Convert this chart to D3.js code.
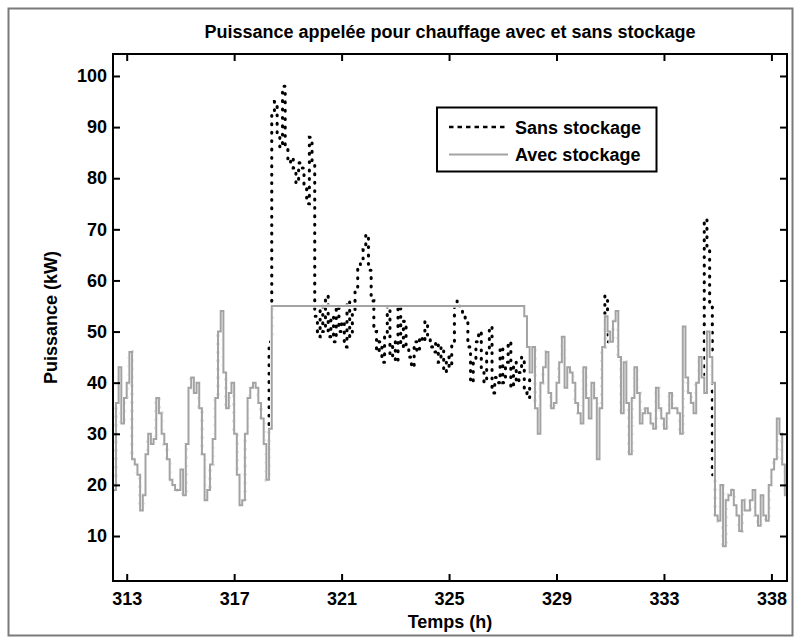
<!DOCTYPE html>
<html><head><meta charset="utf-8">
<script src="https://cdn.jsdelivr.net/npm/d3@7"></script>
<style>
body{margin:0;background:#fff}
text{font-family:"Liberation Sans",Arial,Helvetica,sans-serif;font-weight:bold;fill:#000}
</style>
</head><body>
<svg id="chart" width="801" height="643"></svg>
<script>
// ---- data ----
const titleText = "Puissance appelée pour chauffage avec et sans stockage";
const xLabel = "Temps (h)";
const yLabel = "Puissance (kW)";
const startHour = 312.5;   // first sample (h)
const stepHour = 0.1;      // sampling step (h)

const avec = [
 19,36,43,32,37,40,46,25,24,22,
 15,18,26,30,28,29,37,34,30,28,
 25,21,20,19,19,23,18,28,39,41,
 38,40,35,26,17,19,24,29,37,50,
 54,42,35,38,40,30,22,16,17,30,
 37,39,40,39,36,33,28,21,31,55,
 55,55,55,55,55,55,55,55,55,55,
 55,55,55,55,55,55,55,55,55,55,
 55,55,55,55,55,55,55,55,55,55,
 55,55,55,55,55,55,55,55,55,55,
 55,55,55,55,55,55,55,55,55,55,
 55,55,55,55,55,55,55,55,55,55,
 55,55,55,55,55,55,55,55,55,55,
 55,55,55,55,55,55,55,55,55,55,
 55,55,55,55,55,55,55,55,55,55,
 55,55,55,53,47,42,47,35,30,40,
 43,46,38,35,36,40,44,49,39,43,
 42,40,36,34,32,43,37,33,40,37,
 25,35,47,53,50,48,52,54,45,34,
 44,36,26,37,43,38,32,34,35,34,
 32,31,39,35,33,31,34,38,35,35,
 34,30,51,41,38,36,34,40,45,41,
 38,50,45,40,14,13,20,8,17,18,
 19,16,14,11,17,15,15,17,19,14,
 12,18,14,13,20,23,25,33,30,24,
 18,17
];

const sans = [
 19,36,43,32,37,40,46,25,24,22,
 15,18,26,30,28,29,37,34,30,28,
 25,21,20,19,19,23,18,28,39,41,
 38,40,35,26,17,19,24,29,37,50,
 54,42,35,38,40,30,22,16,17,30,
 37,39,40,39,36,33,28,21,48,93,
 95,88,86,98,86,83,84,82,79,83,
 82,78,75,88,83,53,49,55,50,57,
 49,53,48,55,50,52,47,56,49,54,
 58,63,64,66,69,62,56,50,46,48,
 44,49,55,45,48,44,55,47,52,47,
 45,43,48,46,49,48,52,49,47,46,
 48,44,47,42,45,43,48,55,56,54,
 53,52,47,40,44,48,50,42,40,46,
 51,38,41,40,47,40,44,48,39,44,
 40,42,45,38,37,42,47,35,30,40,
 43,46,38,35,36,40,44,49,39,43,
 42,40,36,34,32,43,37,33,40,37,
 25,35,47,57,48,48,52,54,45,34,
 44,36,26,37,43,38,32,34,35,34,
 32,31,39,35,33,31,34,38,35,35,
 34,30,51,41,38,36,34,40,45,41,
 72,66,55,22,14,13,20,8,17,18,
 19,16,14,11,17,15,15,17,19,14,
 12,18,14,13,20,23,25,33,30,24,
 18,17
];

const xTickValues = [313,317,321,325,329,333,337];
const xTickLabels = ["313","317","321","325","329","333","338"];
const yTickValues = [10,20,30,40,50,60,70,80,90,100];
const legendLabels = ["Sans stockage","Avec stockage"];

// ---- layout ----
const L = 113, R = 787, T = 54, B = 581;
const svg = d3.select("#chart");

svg.append("rect").attr("x",0).attr("y",0).attr("width",801).attr("height",643).attr("fill","#fff");
svg.append("rect").attr("x",8.5).attr("y",8.5).attr("width",784).attr("height",627)
  .attr("fill","none").attr("stroke","#7a7a7a").attr("stroke-width",2);

const x = d3.scaleLinear().domain([312.49, 337.58]).range([L, R]);
const y = d3.scaleLinear().domain([1.2, 104.3]).range([B, T]);

const hours = avec.map((_, i) => startHour + i * stepHour);

const defs = svg.append("defs");
defs.append("clipPath").attr("id","clip").append("rect")
  .attr("x",L).attr("y",T).attr("width",R-L).attr("height",B-T);

const line = d3.line().curve(d3.curveStepAfter).x((d,i)=>x(hours[i])).y(d=>y(d));

// mask: hide the dotted curve where it lies under the grey curve
const mask = defs.append("mask").attr("id","underAvec").attr("maskUnits","userSpaceOnUse")
  .attr("x",0).attr("y",0).attr("width",801).attr("height",643);
mask.append("rect").attr("x",0).attr("y",0).attr("width",801).attr("height",643).attr("fill","#fff");
mask.append("path").datum(avec).attr("d", line).attr("fill","none")
  .attr("stroke","#000").attr("stroke-width",3.6);

const plot = svg.append("g").attr("clip-path","url(#clip)");
plot.append("g").attr("mask","url(#underAvec)")
  .append("path").datum(sans).attr("d", line)
  .attr("fill","none").attr("stroke","#000").attr("stroke-width",3.1)
  .attr("stroke-linecap","round").attr("stroke-dasharray","0.8 7.6");
plot.append("path").datum(avec).attr("d", line)
  .attr("fill","none").attr("stroke","#a3a3a3").attr("stroke-width",2);

// ---- axes ----
function styleAxis(g){
  g.select(".domain").remove();
  g.selectAll(".tick line").attr("stroke","#000").attr("stroke-width",2);
  g.selectAll(".tick text").attr("font-size",18).attr("font-family","Liberation Sans, Arial, sans-serif").attr("font-weight","bold");
}
const fmt = d => xTickLabels[xTickValues.indexOf(d)];
svg.append("g").attr("transform",`translate(0,${B})`)
  .call(d3.axisBottom(x).tickValues(xTickValues).tickFormat(fmt).tickSize(-7).tickPadding(11)).call(styleAxis);
svg.append("g").attr("transform",`translate(0,${T})`)
  .call(d3.axisTop(x).tickValues(xTickValues).tickFormat("").tickSize(-7)).call(styleAxis);
svg.append("g").attr("transform",`translate(${L},0)`)
  .call(d3.axisLeft(y).tickValues(yTickValues).tickSize(-7).tickPadding(6)).call(styleAxis);
svg.append("g").attr("transform",`translate(${R},0)`)
  .call(d3.axisRight(y).tickValues(yTickValues).tickFormat("").tickSize(-7)).call(styleAxis);

svg.append("rect").attr("x",L).attr("y",T).attr("width",R-L).attr("height",B-T)
  .attr("fill","none").attr("stroke","#000").attr("stroke-width",2);

// ---- texts ----
svg.append("text").attr("x",(L+R)/2).attr("y",38).attr("text-anchor","middle")
  .attr("font-size",18).text(titleText);
svg.append("text").attr("x",(L+R)/2).attr("y",628).attr("text-anchor","middle")
  .attr("font-size",18).text(xLabel);
svg.append("text").attr("transform",`translate(57,${(T+B)/2}) rotate(-90)`).attr("text-anchor","middle")
  .attr("font-size",18).text(yLabel);

// ---- legend ----
const lg = svg.append("g");
lg.append("rect").attr("x",437).attr("y",107.5).attr("width",219.5).attr("height",64)
  .attr("fill","#fff").attr("stroke","#000").attr("stroke-width",2);
const rows = [127, 154.5];
lg.append("line").attr("x1",449).attr("x2",508).attr("y1",rows[0]).attr("y2",rows[0])
  .attr("stroke","#000").attr("stroke-width",2.6).attr("stroke-dasharray","4.5 4");
lg.append("line").attr("x1",449).attr("x2",508).attr("y1",rows[1]).attr("y2",rows[1])
  .attr("stroke","#a3a3a3").attr("stroke-width",2);
legendLabels.forEach((t,i)=>{
  lg.append("text").attr("x",515).attr("y",rows[i]+6.5).attr("font-size",18).text(t);
});
</script>
</body></html>
